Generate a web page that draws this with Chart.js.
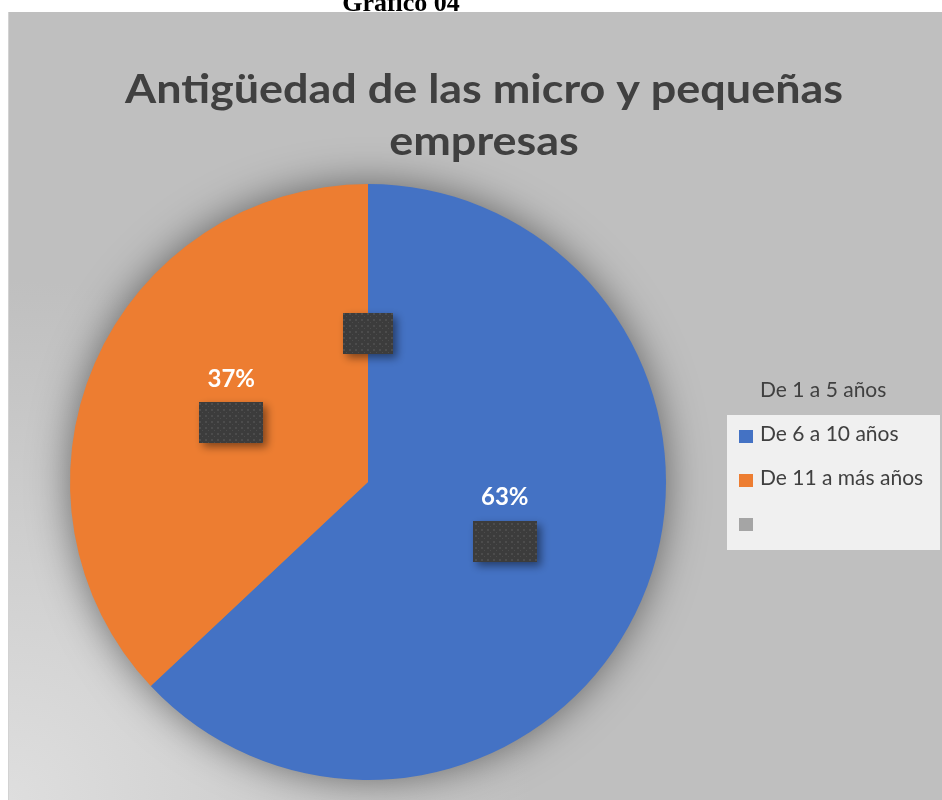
<!DOCTYPE html>
<html>
<head>
<meta charset="utf-8">
<script src="https://cdn.jsdelivr.net/npm/chart.js@4/dist/chart.umd.min.js"></script>
<style>
body { margin: 0; background: #fff; }
#wrap { width: 942px; height: 800px; position: relative; }
</style>
</head>
<body>
<div id="wrap"><canvas id="c"></canvas></div>
<script>
const figureLabel = 'Gráfico 04';
const titleLines = ['Antigüedad de las micro y pequeñas', 'empresas'];
const legendTitle = 'De 1 a 5 años';
const categories = ['De 6 a 10 años', 'De 11 a más años', ''];
const values = [63, 37, 0];
const colors = ['#4472c4', '#ed7d31', '#a5a5a5'];

const total = values.reduce((a, b) => a + b, 0);

function makePattern(ctx) {
    const p = document.createElement('canvas');
    p.width = 6; p.height = 6;
    const g = p.getContext('2d');
    g.fillStyle = '#3c3c3c';
    g.fillRect(0, 0, 6, 6);
    g.fillStyle = '#4c4c4c';
    g.fillRect(1, 1, 2, 2);
    g.fillRect(4, 4, 1, 1);
    return ctx.createPattern(p, 'repeat');
}

// title is stretched a bit wider, the source font runs wider than Lato
function wideText(ctx, text, cx, y, sx) {
    ctx.save();
    ctx.translate(cx, y);
    ctx.scale(sx, 1);
    ctx.fillText(text, 0, 0);
    ctx.restore();
}

const decor = {
    id: 'decor',
    beforeDraw(chart) {
        const ctx = chart.ctx;
        ctx.save();
        ctx.fillStyle = '#fff';
        ctx.fillRect(0, 0, chart.width, chart.height);
        // gray panel, lighter towards bottom-left
        const g = ctx.createRadialGradient(10, 800, 0, 10, 800, 520);
        g.addColorStop(0, '#dedede');
        g.addColorStop(1, '#bfbfbf');
        ctx.fillStyle = g;
        ctx.fillRect(9, 12, chart.width - 9, chart.height - 12);
        ctx.fillStyle = '#d2d2d2';
        ctx.fillRect(8, 12, 1, chart.height - 12);

        ctx.fillStyle = '#000';
        ctx.font = 'bold 26px "Liberation Serif"';
        ctx.textAlign = 'center';
        ctx.fillText(figureLabel, 401, 11);

        // title
        ctx.fillStyle = '#404040';
        ctx.font = 'bold 40px Lato';
        const sx = 718 / ctx.measureText(titleLines[0]).width;
        wideText(ctx, titleLines[0], 484, 103, sx);
        wideText(ctx, titleLines[1], 484, 155, sx);

        // legend
        ctx.textAlign = 'left';
        ctx.font = '21px Lato';
        ctx.fillText(legendTitle, 760, 397);
        ctx.fillStyle = '#f0f0f0';
        ctx.fillRect(727, 415, 213, 135);
        categories.forEach((c, i) => {
            const y = 441 + i * 44;
            ctx.fillStyle = colors[i];
            ctx.fillRect(739, y - 11, 14, 13);
            ctx.fillStyle = '#404040';
            ctx.fillText(c, 760, y);
        });
        ctx.restore();
    },
    beforeDatasetsDraw(chart) {
        const ctx = chart.ctx;
        const arc = chart.getDatasetMeta(0).data[0];
        ctx.save();
        ctx.shadowColor = 'rgba(0,0,0,0.5)';
        ctx.shadowBlur = 40;
        ctx.fillStyle = '#888';
        ctx.beginPath();
        ctx.arc(arc.x, arc.y, arc.outerRadius - 1, 0, Math.PI * 2);
        ctx.fill();
        ctx.restore();
    },
    afterDatasetsDraw(chart) {
        const ctx = chart.ctx;
        const pattern = makePattern(ctx);
        chart.getDatasetMeta(0).data.forEach((a, i) => {
            const p = a.tooltipPosition();
            const w = values[i] > 0 ? 64 : 50, h = 41;
            ctx.save();
            ctx.shadowColor = 'rgba(0,0,0,0.45)';
            ctx.shadowBlur = 8;
            ctx.shadowOffsetX = 4;
            ctx.shadowOffsetY = 4;
            ctx.fillStyle = pattern;
            ctx.fillRect(Math.round(p.x - w / 2), Math.round(p.y - h / 2), w, h);
            ctx.restore();
            if (values[i] > 0) {
                ctx.save();
                ctx.fillStyle = '#fff';
                ctx.font = 'bold 24px Lato';
                ctx.textAlign = 'center';
                ctx.fillText(Math.round(values[i] / total * 100) + '%', p.x, p.y - 36);
                ctx.restore();
            }
        });
    }
};

new Chart(document.getElementById('c'), {
    type: 'pie',
    data: {
        labels: categories,
        datasets: [{
            data: values,
            backgroundColor: colors,
            borderWidth: 0
        }]
    },
    options: {
        responsive: true,
        maintainAspectRatio: false,
        animation: false,
        layout: { padding: { left: 69, right: 275, top: 184, bottom: 20 } },
        plugins: {
            legend: { display: false },
            title: { display: false },
            tooltip: { enabled: false }
        }
    },
    plugins: [decor]
});
</script>
</body>
</html>
